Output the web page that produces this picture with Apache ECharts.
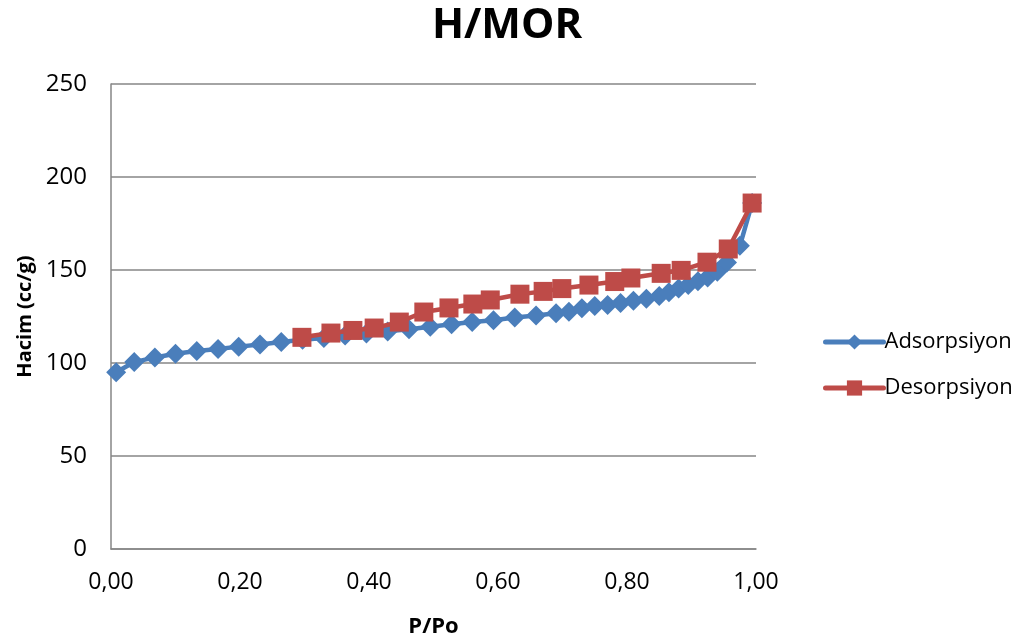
<!DOCTYPE html>
<html>
<head>
<meta charset="utf-8">
<script src="https://cdn.jsdelivr.net/npm/echarts@6/dist/echarts.min.js"></script>
<style>
	html, body { margin: 0; padding: 0; background: #fff; }
	#chart { width: 1025px; height: 644px; }
</style>
</head>
<body>
<div id="chart"></div>
<script>
	// adsorpsiyon (P/Po, hacim)
	const adsP = [0.008, 0.036, 0.068, 0.100, 0.133, 0.166, 0.198, 0.231, 0.264, 0.297, 0.330, 0.363, 0.396, 0.429, 0.462, 0.495, 0.528, 0.560, 0.593, 0.626, 0.659, 0.690, 0.710, 0.730, 0.750, 0.770, 0.790, 0.810, 0.830, 0.850, 0.865, 0.880, 0.895, 0.910, 0.925, 0.940, 0.955, 0.975, 0.994];
	const adsV = [95.0, 100.5, 103.0, 105.0, 106.5, 107.5, 108.8, 110.0, 111.3, 112.5, 113.5, 114.8, 115.8, 117.0, 118.2, 119.5, 120.8, 122.0, 123.0, 124.5, 125.5, 126.8, 127.5, 129.5, 130.6, 131.2, 132.2, 133.5, 134.5, 136.0, 138.0, 140.0, 142.0, 144.0, 146.0, 149.0, 154.0, 163.0, 186.0];
	// desorpsiyon
	const desP = [0.296, 0.341, 0.375, 0.408, 0.447, 0.485, 0.524, 0.561, 0.588, 0.634, 0.670, 0.699, 0.741, 0.781, 0.806, 0.853, 0.884, 0.924, 0.957, 0.994];
	const desV = [113.8, 116.1, 117.5, 118.8, 122.0, 127.4, 129.6, 131.7, 133.9, 137.0, 138.5, 140.0, 141.9, 143.8, 145.7, 148.2, 149.8, 154.2, 161.3, 186.0];

	const font = 'Open Sans, Liberation Sans, sans-serif';

	function pairs(xs, ys) {
		let arr = [];
		xs.map((x, i) => {
			arr.push([x, ys[i]]);
		});
		return arr;
	}

	let chart = echarts.init(document.getElementById('chart'));
	const option = {
		animation: false,
		title: {
			text: 'H/MOR',
			left: 502,
			textAlign: 'center',
			top: 0,
			textStyle: {
				fontFamily: font,
				fontSize: 42,
				fontWeight: 'bold',
				color: '#000'
			}
		},
		legend: {
			orient: 'vertical',
			left: 818,
			top: 326,
			itemGap: 24,
			itemWidth: 58,
			itemHeight: 19,
			lineStyle: { width: 5, cap: 'round' },
			textStyle: {
				fontFamily: font,
				fontSize: 22,
				color: '#000',
				padding: [0, 0, 0, -4]
			},
			data: ['Adsorpsiyon', 'Desorpsiyon']
		},
		grid: {
			left: 111,
			right: 269,
			top: 84,
			bottom: 95
		},
		xAxis: {
			type: 'value',
			min: 0,
			max: 1,
			interval: 0.2,
			name: 'P/Po',
			nameLocation: 'middle',
			nameGap: 67,
			nameTextStyle: {
				fontFamily: font,
				fontSize: 22,
				fontWeight: 'bold',
				color: '#000'
			},
			axisLine: { lineStyle: { color: '#868686', width: 1.5 } },
			axisTick: { show: false },
			axisLabel: {
				fontFamily: font,
				fontSize: 23,
				color: '#000',
				margin: 22,
				formatter: v => v.toFixed(2).replace('.', ',')
			},
			splitLine: { show: false }
		},
		yAxis: {
			type: 'value',
			min: 0,
			max: 250,
			interval: 50,
			name: 'Hacim (cc/g)',
			nameLocation: 'middle',
			nameGap: 74,
			nameTextStyle: {
				fontFamily: font,
				fontSize: 20,
				fontWeight: 'bold',
				color: '#000'
			},
			axisLine: { show: true, lineStyle: { color: '#868686', width: 1.5 } },
			axisTick: { show: false },
			axisLabel: {
				fontFamily: font,
				fontSize: 24,
				color: '#000',
				margin: 24
			},
			splitLine: { show: true, lineStyle: { color: '#868686', width: 1.5 } }
		},
		series: [{
				name: 'Adsorpsiyon',
				type: 'line',
				data: pairs(adsP, adsV),
				symbol: 'diamond',
				symbolSize: 20,
				itemStyle: { color: '#4a7ebb' },
				lineStyle: { color: '#4a7ebb', width: 4.5 },
				z: 2
			},
			{
				name: 'Desorpsiyon',
				type: 'line',
				data: pairs(desP, desV),
				symbol: 'rect',
				symbolSize: 19,
				itemStyle: { color: '#be4b48' },
				lineStyle: { color: '#be4b48', width: 4.5 },
				z: 3
			}
		]
	};
	chart.setOption(option);
</script>
</body>
</html>
